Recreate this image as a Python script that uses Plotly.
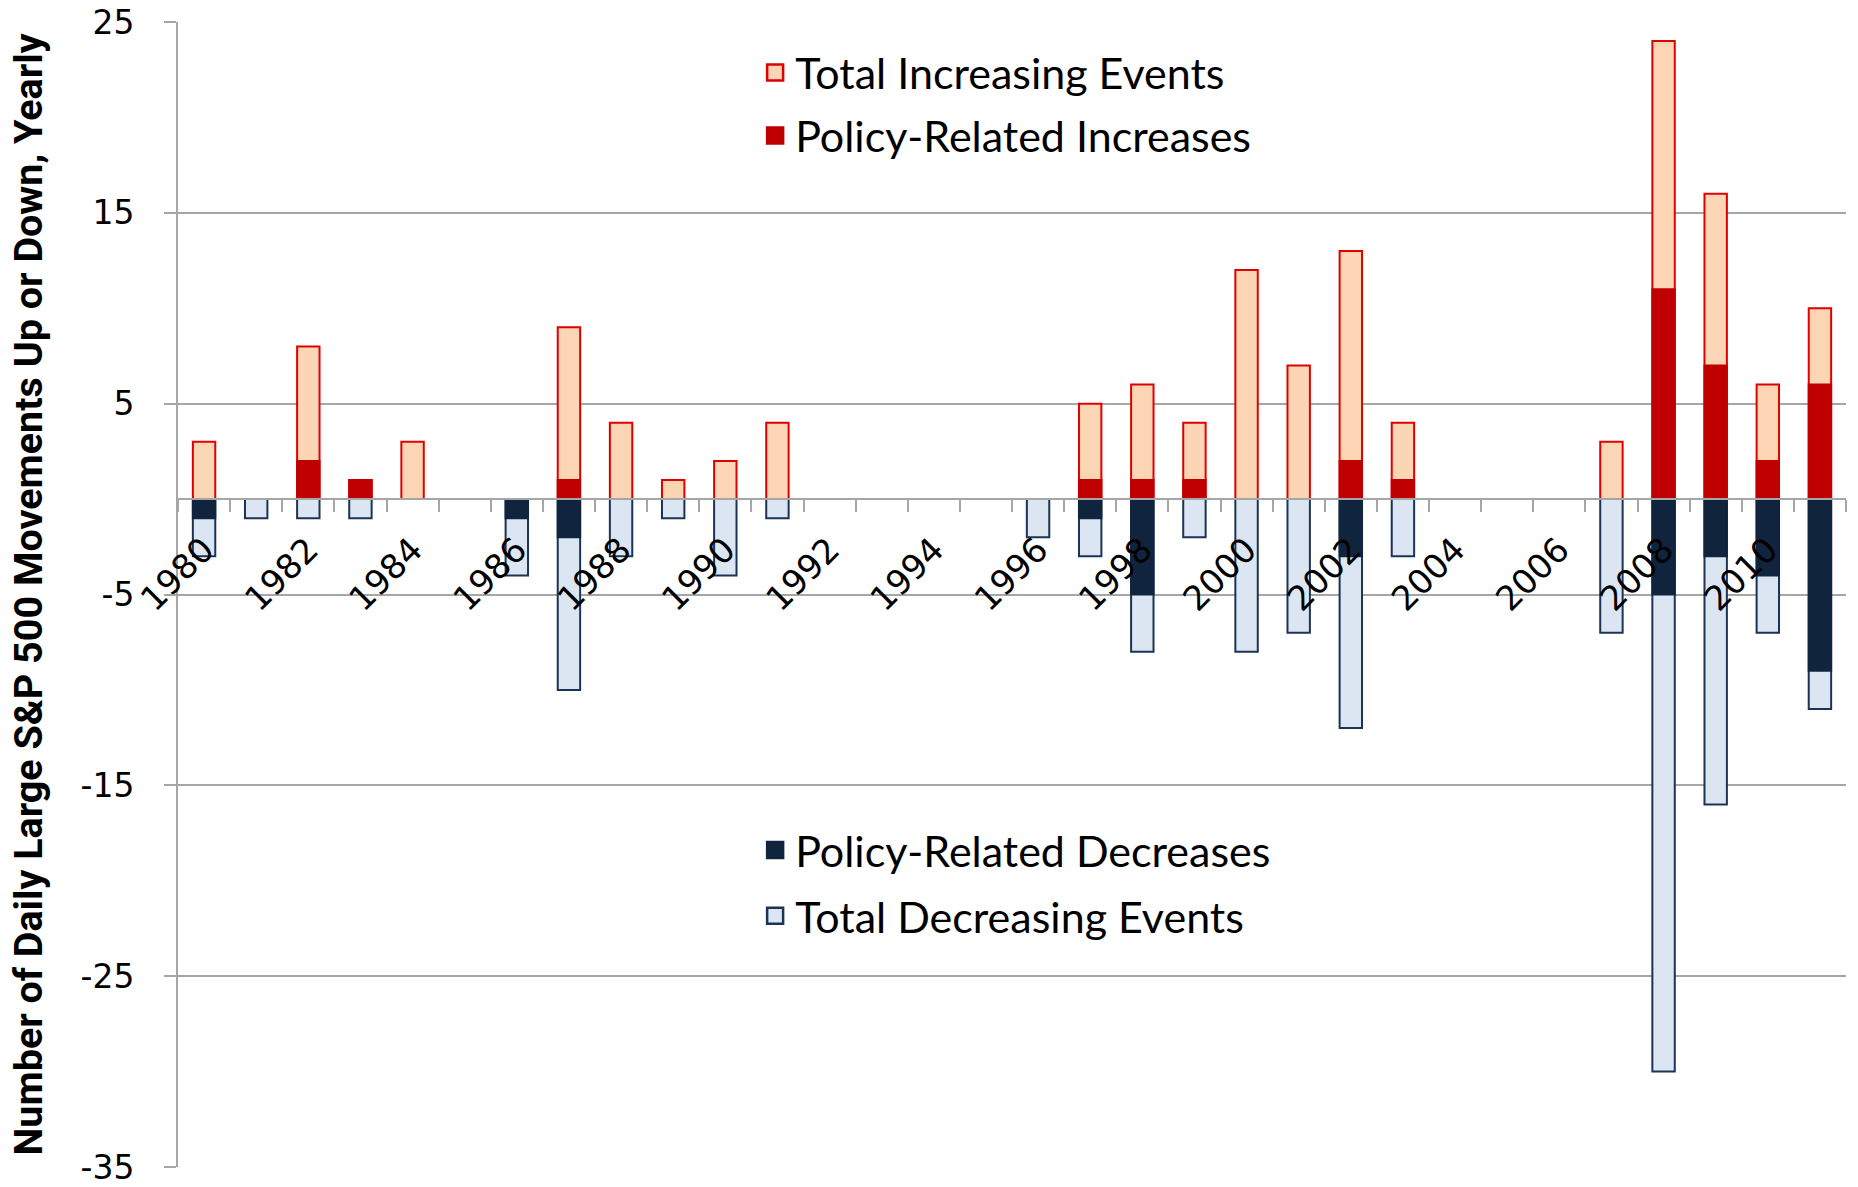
import plotly.graph_objects as go

years = list(range(1980, 2012))
total_increasing = [3, 0, 8, 1, 3, 0, 0, 9, 4, 1, 2, 4, 0, 0, 0, 0, 0, 5, 6, 4, 12, 7, 13, 4, 0, 0, 0, 3, 24, 16, 6, 10]
policy_increases = [0, 0, 2, 1, 0, 0, 0, 1, 0, 0, 0, 0, 0, 0, 0, 0, 0, 1, 1, 1, 0, 0, 2, 1, 0, 0, 0, 0, 11, 7, 2, 6]
policy_decreases = [-1, 0, 0, 0, 0, 0, -1, -2, 0, 0, 0, 0, 0, 0, 0, 0, 0, -1, -5, 0, 0, 0, -3, 0, 0, 0, 0, 0, -5, -3, -4, -9]
total_decreasing = [-3, -1, -1, -1, 0, 0, -4, -10, -3, -1, -4, -1, 0, 0, 0, 0, -2, -3, -8, -2, -8, -7, -12, -3, 0, 0, 0, -7, -30, -16, -7, -11]
y_tick_values = [25, 15, 5, -5, -15, -25, -35]
y_tick_labels = ["25", "15", "5", "-5", "-15", "-25", "-35"]
x_label_years = list(range(1980, 2012, 2))


def nz(vals):
    return [v if v != 0 else None for v in vals]


PEACH = "#FCD5B5"
RED_EDGE = "#E00000"
RED = "#C00000"
NAVY = "#10243E"
NAVY_EDGE = "#1B3456"
LIGHT = "#DCE6F2"
GRID = "#A6A6A6"
BAR_W = 0.43

series = [
    # (name, values, fill, edge, legend, rank)
    ("Total Increasing Events", total_increasing, PEACH, RED_EDGE, "legend", 1),
    ("Total Decreasing Events", total_decreasing, LIGHT, NAVY_EDGE, "legend2", 4),
    ("Policy-Related Increases", policy_increases, RED, RED, "legend", 2),
    ("Policy-Related Decreases", policy_decreases, NAVY, NAVY, "legend2", 3),
]

fig = go.Figure()
for name, vals, fill, edge, leg, rank in series:
    fig.add_trace(go.Bar(
        x=years, y=nz(vals), name=name, width=BAR_W,
        marker=dict(color=fill, line=dict(color=edge, width=2)),
        showlegend=False, legendgroup=name))
# legend entries (larger square swatches than the default bar swatch)
for name, vals, fill, edge, leg, rank in series:
    fig.add_trace(go.Scatter(
        x=[None], y=[None], mode="markers", name=name,
        marker=dict(symbol="square", size=16, color=fill, line=dict(color=edge, width=2.5)),
        legend=leg, legendgroup=name, legendrank=rank, hoverinfo="skip"))

legend_font = dict(family="Lato, Open Sans, sans-serif", size=43, color="black")

fig.update_layout(
    width=1858, height=1187,
    margin=dict(l=178, r=12, t=22, b=20),
    paper_bgcolor="white", plot_bgcolor="white",
    barmode="overlay",
    showlegend=True,
    legend=dict(x=0.346, y=0.986, xanchor="left", yanchor="top", font=legend_font,
                bgcolor="rgba(0,0,0,0)", tracegroupgap=4),
    legend2=dict(x=0.346, y=0.307, xanchor="left", yanchor="top", font=legend_font,
                 bgcolor="rgba(0,0,0,0)", tracegroupgap=7),
    xaxis=dict(
        range=[1979.5, 2011.5], anchor="free", position=35 / 60,
        tickmode="array", tickvals=x_label_years, ticktext=[str(y) for y in x_label_years],
        tickangle=-45, ticks="", showgrid=False, zeroline=False,
        showline=True, linecolor=GRID, linewidth=2,
        tickfont=dict(family="DejaVu Sans, Verdana, sans-serif", size=34, color="black"),
        ticklabelstandoff=16,
        minor=dict(tick0=1979.5, dtick=1, ticks="outside", ticklen=12, tickwidth=2,
                   tickcolor=GRID, showgrid=False),
        automargin=False,
    ),
    yaxis=dict(
        range=[-35, 25], tickmode="array", tickvals=y_tick_values, ticktext=y_tick_labels,
        showgrid=True, gridcolor=GRID, gridwidth=2, zeroline=False,
        showline=True, linecolor=GRID, linewidth=2,
        ticks="outside", ticklen=12, tickwidth=2, tickcolor=GRID,
        tickfont=dict(family="DejaVu Sans, Verdana, sans-serif", size=33, color="black"),
        ticklabelstandoff=23, ticklabeloverflow="allow",
        title=dict(text="Number of Daily Large S&P 500 Movements Up or Down, Yearly",
                   font=dict(family="Roboto, Liberation Sans, sans-serif",
                             size=39.5, color="black", weight="bold"),
                   standoff=26),
        automargin=False,
    ),
)

fig.write_html("out.html", config={"displayModeBar": False},
               post_script="document.body.style.margin='0';")
